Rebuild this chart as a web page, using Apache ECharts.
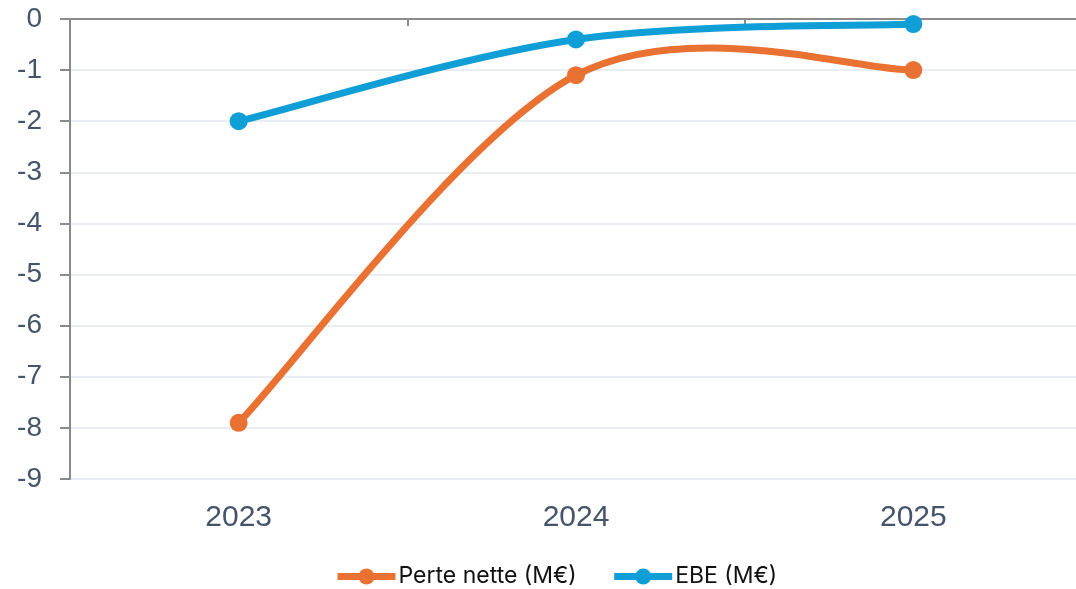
<!DOCTYPE html>
<html><head><meta charset="utf-8">
<script src="https://cdn.jsdelivr.net/npm/echarts@6/dist/echarts.min.js"></script>
<style>html,body{margin:0;padding:0;background:#fff}#c{width:1076px;height:589px}</style>
</head><body><div id="c"></div>
<script>
const categories = ['2023', '2024', '2025'];
const perteNette = [-7.9, -1.1, -1.0];
const ebe = [-2.0, -0.4, -0.1];
const seriesNames = ['Perte nette (M€)', 'EBE (M€)'];
const colors = ['#e97132', '#0f9ed5'];

// Smooth curve (Catmull-Rom style, like the spreadsheet smoothing) drawn through library coords
function smoothCurve(values, color) {
  return function (params, api) {
    const p = values.map((v, i) => api.coord([i, v]));
    let d = 'M' + p[0][0] + ',' + p[0][1];
    for (let i = 0; i < p.length - 1; i++) {
      const p0 = p[Math.max(i - 1, 0)], p1 = p[i], p2 = p[i + 1], p3 = p[Math.min(i + 2, p.length - 1)];
      const c1 = [p1[0] + (p2[0] - p0[0]) / 6, p1[1] + (p2[1] - p0[1]) / 6];
      const c2 = [p2[0] - (p3[0] - p1[0]) / 6, p2[1] - (p3[1] - p1[1]) / 6];
      d += ' C' + c1[0] + ',' + c1[1] + ' ' + c2[0] + ',' + c2[1] + ' ' + p2[0] + ',' + p2[1];
    }
    return { type: 'path', shape: { pathData: d }, style: { fill: null, stroke: color, lineWidth: 7, lineCap: 'round', lineJoin: 'round' } };
  };
}

const chart = echarts.init(document.getElementById('c'));
const labelColor = '#44546a';
const axisGray = '#8a8a8a';
chart.setOption({
  animation: false,
  grid: { left: 70, top: 19, width: 1012, height: 460, containLabel: false, outerBoundsMode: 'none' },
  legend: {
    top: 565, left: 334, padding: 0, itemWidth: 58, itemHeight: 20, itemGap: 34,
    textStyle: { fontFamily: 'Inter, sans-serif', fontSize: 23, color: '#111', padding: [0, 0, 0, -2] },
    data: [
      { name: seriesNames[0], lineStyle: { width: 7, color: colors[0], opacity: 1 }, itemStyle: { color: colors[0] } },
      { name: seriesNames[1], lineStyle: { width: 7, color: colors[1], opacity: 1 }, itemStyle: { color: colors[1] } }
    ]
  },
  xAxis: [{
    type: 'category', data: categories, position: 'bottom',
    axisLine: { show: false }, axisTick: { show: false },
    axisLabel: { fontFamily: 'Liberation Sans, Arial', fontSize: 30, color: labelColor, margin: 24 }
  }, {
    type: 'category', data: categories, position: 'top',
    axisLine: { show: true, onZero: false, lineStyle: { color: axisGray, width: 2 } },
    axisTick: { show: true, inside: true, length: 7, lineStyle: { color: axisGray, width: 2 } },
    axisLabel: { show: false }
  }],
  yAxis: {
    type: 'value', min: -9, max: 0, interval: 1,
    axisLine: { show: true, lineStyle: { color: axisGray, width: 2 } },
    axisTick: { show: true, length: 10, lineStyle: { color: axisGray, width: 2 } },
    axisLabel: { fontFamily: 'Liberation Sans, Arial', fontSize: 28, color: labelColor, margin: 28 },
    splitLine: { lineStyle: { color: '#e3e7ee', width: 1.5 } }
  },
  series: [{
    name: seriesNames[0], type: 'line', data: perteNette, xAxisIndex: 0, z: 3,
    symbol: 'circle', symbolSize: 18,
    lineStyle: { width: 7, color: colors[0], opacity: 0 }, itemStyle: { color: colors[0] }
  }, {
    name: seriesNames[1], type: 'line', data: ebe, xAxisIndex: 0, z: 3,
    symbol: 'circle', symbolSize: 18,
    lineStyle: { width: 7, color: colors[1], opacity: 0 }, itemStyle: { color: colors[1] }
  }, {
    name: seriesNames[0], type: 'custom', xAxisIndex: 0, data: [[0, perteNette[0]]], z: 2, silent: true,
    renderItem: smoothCurve(perteNette, colors[0]), itemStyle: { color: colors[0] }
  }, {
    name: seriesNames[1], type: 'custom', xAxisIndex: 0, data: [[0, ebe[0]]], z: 2, silent: true,
    renderItem: smoothCurve(ebe, colors[1]), itemStyle: { color: colors[1] }
  }]
});
</script></body></html>
